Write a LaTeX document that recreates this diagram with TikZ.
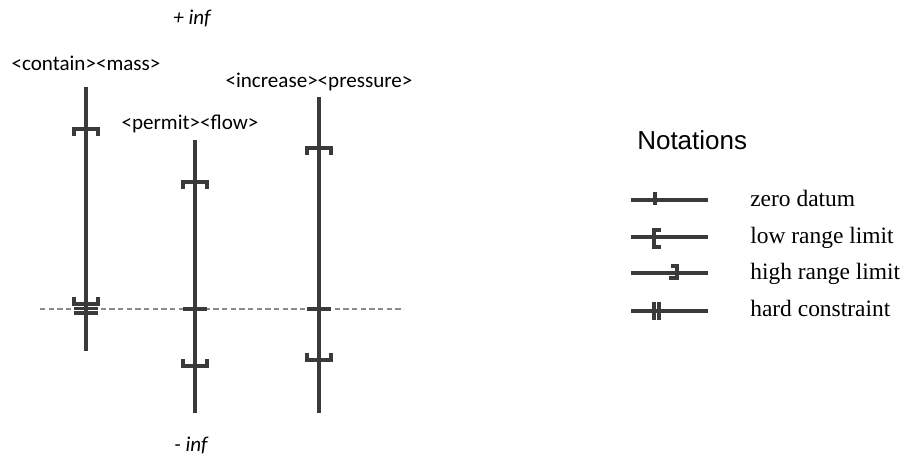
\documentclass[tikz,border=0pt]{standalone}
\usepackage{fontspec}
\setmainfont{Liberation Serif}
\newfontfamily\labelfont{Carlito}
\newfontfamily\headfont{Liberation Sans}
\definecolor{ink}{HTML}{3A3A3A}
\definecolor{guide}{HTML}{8C8C8C}
\tikzset{
  axisline/.style={draw=ink, line width=2.3pt},
  markline/.style={draw=ink, line width=2.3pt},
  keyline/.style={draw=ink, line width=2.3pt},
  termlabel/.style={font=\labelfont\fontsize{15.8}{18}\selectfont, inner sep=0pt, anchor=base},
  inflabel/.style={font=\labelfont\itshape\fontsize{15.8}{18}\selectfont, inner sep=0pt, anchor=base},
  keytext/.style={font=\fontsize{17.6}{20}\selectfont, inner sep=0pt, anchor=base west},
  % range marks on a vertical axis
  lowlim/.pic={\draw[markline] (-12,7) -- (-12,0) -- (12,0) -- (12,7);},
  highlim/.pic={\draw[markline] (-12,-7) -- (-12,0) -- (12,0) -- (12,-7);},
  zeromark/.pic={\draw[markline] (-12,0) -- (12,0);},
  hardmark/.pic={\draw[markline] (-12,-0.5) -- (12,-0.5) (-12,4) -- (12,4);},
}
\begin{document}
\begin{tikzpicture}[x=0.75pt, y=-0.75pt]
\useasboundingbox (0,0) rectangle (907,460);

% infinity labels
\node[inflabel] (pinf) at (192,25) {+ inf};
\node[inflabel] (minf) at (191,451) {- inf};

% zero datum guide
\coordinate (gl) at (40,309);
\coordinate (gr) at (404,309);
\draw[guide, line width=0.9pt, dash pattern=on 4pt off 2.5pt] (gl) -- (gr);

% <contain><mass>
\node[termlabel] (cm) at (86,71) {<contain><mass>};
\coordinate (cmtop) at (86,87);
\coordinate (cmbot) at (86,351);
\draw[axisline] (cmtop) -- (cmbot);
\pic at (86,304) {highlim};
\pic at (86,309) {hardmark};
\pic at (86,129) {lowlim};

% <permit><flow>
\node[termlabel] (pf) at (190,129) {<permit><flow>};
\coordinate (pftop) at (195,140);
\coordinate (pfbot) at (195,413);
\draw[axisline] (pftop) -- (pfbot);
\pic at (195,182) {lowlim};
\pic at (195,309) {zeromark};
\pic at (195,366) {highlim};

% <increase><pressure>
\node[termlabel] (ip) at (319,88) {<increase><pressure>};
\coordinate (iptop) at (319,97);
\coordinate (ipbot) at (319,413);
\draw[axisline] (iptop) -- (ipbot);
\pic at (319,148) {lowlim};
\pic at (319,309) {zeromark};
\pic at (319,360) {highlim};

% notation key
\node[font=\headfont\fontsize{19.5}{22}\selectfont, inner sep=0pt, anchor=base west] (head) at (637,149) {Notations};

\coordinate (k1a) at (631,200); \coordinate (k1b) at (708,200);
\draw[keyline] (k1a) -- (k1b);
\draw[keyline] (655,192) -- (655,205);
\node[keytext] (t1) at (750,206) {zero datum};

\coordinate (k2a) at (631,237); \coordinate (k2b) at (708,237);
\draw[keyline] (k2a) -- (k2b);
\draw[keyline] (661,230) -- (654,230) -- (654,247) -- (661,247);
\node[keytext] (t2) at (750,243) {low range limit};

\coordinate (k3a) at (631,273); \coordinate (k3b) at (708,273);
\draw[keyline] (k3a) -- (k3b);
\draw[keyline] (671,266) -- (677,266) -- (677,278) -- (669,278);
\node[keytext] (t3) at (750,279) {high range limit};

\coordinate (k4a) at (631,311); \coordinate (k4b) at (708,311);
\draw[keyline] (k4a) -- (k4b);
\draw[keyline] (654,302) -- (654,320) (659,302) -- (659,320);
\node[keytext] (t4) at (750,316) {hard constraint};
\end{tikzpicture}
\end{document}
